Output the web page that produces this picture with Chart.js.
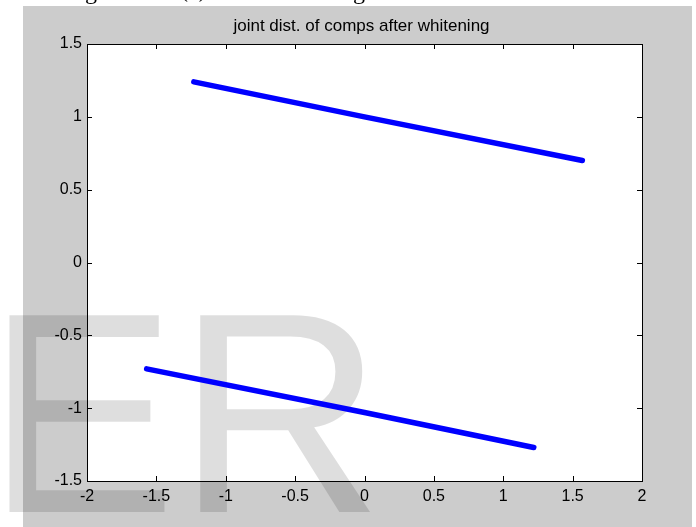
<!DOCTYPE html>
<html>
<head>
<meta charset="utf-8">
<title>joint dist. of comps after whitening</title>
<script src="https://cdn.jsdelivr.net/npm/chart.js@4"></script>
<style>
  html, body { margin: 0; padding: 0; background: #ffffff; }
  #plot { display: block; }
</style>
</head>
<body>
<canvas id="plot" width="696" height="527"></canvas>
<script>
// whitened components: two parallel bands
const upperX = [-1.23, 0.0, 1.57];
const upperY = [1.24, 1.0, 0.70];
const lowerX = [-1.57, 0.0, 1.22];
const lowerY = [-0.73, -1.03, -1.27];

const xTickValues = [-2, -1.5, -1, -0.5, 0, 0.5, 1, 1.5, 2];
const xTickLabels = ["-2", "-1.5", "-1", "-0.5", "0", "0.5", "1", "1.5", "2"];
const yTickValues = [-1.5, -1, -0.5, 0, 0.5, 1, 1.5];
const yTickLabels = ["-1.5", "-1", "-0.5", "0", "0.5", "1", "1.5"];

const TITLE = "joint dist. of comps after whitening";
const FONT = "'Liberation Sans', Arial, sans-serif";

function toPoints(xs, ys) {
    return xs.map((x, i) => ({ x: x, y: ys[i] }));
}

// figure background, axes box with inward ticks, title and overlay lettering
const figurePlugin = {
    id: "figure",
    beforeDraw(chart) {
        const ctx = chart.ctx;
        const a = chart.chartArea;
        ctx.save();
        ctx.fillStyle = "#cccccc";
        ctx.fillRect(23, 6, 669, 521);
        ctx.fillStyle = "#ffffff";
        ctx.fillRect(a.left, a.top, a.right - a.left, a.bottom - a.top);

        // bottom of the caption line above the figure
        ctx.fillStyle = "#000000";
        ctx.font = "24px 'Liberation Serif', serif";
        ctx.textBaseline = "alphabetic";
        ctx.fillText("g", 85, -1);
        ctx.fillText("(c)", 180, -3);
        ctx.fillText("g", 353, -1);
        ctx.restore();
    },
    beforeDatasetsDraw(chart) {
        const ctx = chart.ctx;
        const a = chart.chartArea;
        const xs = chart.scales.x;
        const ys = chart.scales.y;
        const tick = 5;
        ctx.save();
        ctx.strokeStyle = "#000000";
        ctx.lineWidth = 1;
        ctx.strokeRect(Math.round(a.left) + 0.5, Math.round(a.top) + 0.5,
                       Math.round(a.right - a.left), Math.round(a.bottom - a.top));
        ctx.beginPath();
        xTickValues.forEach(v => {
            const px = Math.round(xs.getPixelForValue(v)) + 0.5;
            ctx.moveTo(px, a.bottom); ctx.lineTo(px, a.bottom - tick);
            ctx.moveTo(px, a.top); ctx.lineTo(px, a.top + tick);
        });
        yTickValues.forEach(v => {
            const py = Math.round(ys.getPixelForValue(v)) + 0.5;
            ctx.moveTo(a.left, py); ctx.lineTo(a.left + tick, py);
            ctx.moveTo(a.right, py); ctx.lineTo(a.right - tick, py);
        });
        ctx.stroke();

        ctx.fillStyle = "#000000";
        ctx.font = "17px " + FONT;
        ctx.textAlign = "center";
        ctx.textBaseline = "alphabetic";
        ctx.fillText(TITLE, (a.left + a.right) / 2 - 3, 31);

        ctx.fillStyle = "rgba(0, 0, 0, 0.13)";
        ctx.font = "286px " + FONT;
        ctx.textAlign = "left";
        ctx.fillText("ER", -14, 512);
        ctx.restore();
    }
};

new Chart(document.getElementById("plot"), {
    type: "scatter",
    data: {
        datasets: [
            {
                data: toPoints(upperX, upperY),
                showLine: true,
                borderColor: "#0000ff",
                borderWidth: 5.5,
                borderCapStyle: "round",
                pointRadius: 0
            },
            {
                data: toPoints(lowerX, lowerY),
                showLine: true,
                borderColor: "#0000ff",
                borderWidth: 5.5,
                borderCapStyle: "round",
                pointRadius: 0
            }
        ]
    },
    options: {
        responsive: false,
        animation: false,
        devicePixelRatio: 1,
        layout: { padding: { left: 0, right: 54, top: 44, bottom: 0 } },
        plugins: {
            legend: { display: false },
            title: { display: false },
            tooltip: { enabled: false }
        },
        scales: {
            x: {
                type: "linear",
                min: -2,
                max: 2,
                grid: { display: false, drawTicks: false },
                border: { display: false },
                afterBuildTicks: scale => { scale.ticks = xTickValues.map(v => ({ value: v })); },
                afterFit: scale => { scale.height = 46; },
                ticks: {
                    padding: 6,
                    maxRotation: 0,
                    autoSkip: false,
                    color: "#000000",
                    font: { family: FONT, size: 16 },
                    callback: (value, index) => xTickLabels[index]
                }
            },
            y: {
                type: "linear",
                min: -1.5,
                max: 1.5,
                grid: { display: false, drawTicks: false },
                border: { display: false },
                afterBuildTicks: scale => { scale.ticks = yTickValues.map(v => ({ value: v })); },
                afterFit: scale => { scale.width = 87; },
                ticks: {
                    padding: 5,
                    autoSkip: false,
                    color: "#000000",
                    font: { family: FONT, size: 16 },
                    callback: (value, index) => yTickLabels[index]
                }
            }
        }
    },
    plugins: [figurePlugin]
});
</script>
</body>
</html>
